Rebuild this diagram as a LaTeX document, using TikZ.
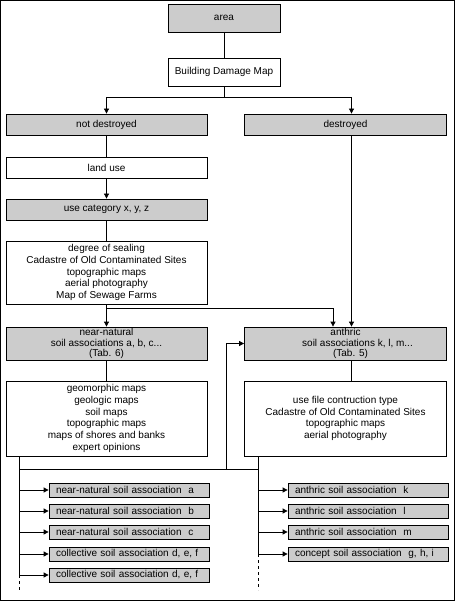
\documentclass[tikz,border=0pt]{standalone}
\usepackage{fontspec}
\setmainfont{Liberation Sans}
\usetikzlibrary{arrows.meta}

\definecolor{boxgray}{RGB}{204,204,204}

\tikzset{
    wbox/.style={draw, fill=white, inner sep=0pt, align=center,
        font=\fontsize{10}{11.8}\selectfont},
    gbox/.style={wbox, fill=boxgray},
    soilbox/.style={gbox, minimum height=33pt,
        font=\fontsize{10}{10.5}\selectfont},
    leaf/.style={gbox, minimum height=14pt, text width=146pt,
        inner xsep=7pt, align=left}
}

\begin{document}
\begin{tikzpicture}[x=1pt, y=-1pt, line width=0.8pt,
    >={Triangle[length=5pt,width=5pt]}]
    % 1. Khung ngoài
    \useasboundingbox (0,0) rectangle (455,601);
    \draw (0.5,0.5) rectangle (454.5,600.5);

    % 2. Các hộp chính
    \node[gbox, minimum width=112pt, minimum height=28pt] (area) at (224,18) {area};
    \node[wbox, minimum width=112pt, minimum height=28pt] (bdm) at (224,72) {Building Damage Map};
    \node[gbox, minimum width=201pt, minimum height=21pt] (notdes) at (106.5,124.5) {not destroyed};
    \node[gbox, minimum width=202pt, minimum height=21pt] (des) at (345.5,124.5) {destroyed};
    \node[wbox, minimum width=201pt, minimum height=21pt] (landuse) at (106.5,167.5) {land use};
    \node[gbox, minimum width=201pt, minimum height=21pt] (usecat) at (106.5,209.5) {use category x, y, z};
    \node[wbox, minimum width=201pt, minimum height=63pt] (degree) at (106.5,272.5)
        {degree of sealing\\Cadastre of Old Contaminated Sites\\topographic maps\\aerial photography\\Map of Sewage Farms};

    % 3. Hai nhóm đất
    \node[soilbox, minimum width=201pt] (near) at (106.5,343.5)
        {near-natural\\soil associations a, b, c...\\(Tab. 6)};
    \node[soilbox, minimum width=202pt] (anth) at (345.5,343.5)
        {anthric\\\hspace*{24pt}soil associations k, l, m...\\\hspace*{10pt}(Tab. 5)};
    \node[wbox, minimum width=201pt, minimum height=75pt] (nearinfo) at (106.5,418.5)
        {geomorphic maps\\geologic maps\\soil maps\\topographic maps\\maps of shores and banks\\expert opinions};
    \node[wbox, minimum width=202pt, minimum height=75pt] (anthinfo) at (345.5,418.5)
        {use file contruction type\\Cadastre of Old Contaminated Sites\\topographic maps\\aerial photography};

    % 4. Đường nối giữa các hộp
    \draw (area) -- (bdm);
    \draw[->] (bdm.south) -- ++(0,11) -| (notdes.north);
    \draw[->] (bdm.south) -- ++(0,11) -| ([xshift=6pt]des.north);
    \draw (notdes) -- (landuse);
    \draw[->] (landuse) -- (usecat);
    \draw (usecat) -- (degree);
    \draw[->] (degree) -- (near);
    \draw[->] (degree.south) -- ++(0,4) -| ([xshift=-12.5pt]anth.north);
    \draw[->] ([xshift=6pt]des.south) -- ([xshift=6pt]anth.north);
    \draw (near) -- (nearinfo);
    \draw ([xshift=6pt]anth.south) -- ([xshift=6pt]anthinfo.north);

    % 5. Trục dọc phía dưới và nhánh quay lại
    \coordinate (trunkL) at ([xshift=14pt]nearinfo.south west);
    \coordinate (trunkR) at ([xshift=14pt]anthinfo.south west);
    \coordinate (rise) at (226,469);
    \draw (trunkL |- rise) -- (trunkR |- rise);
    \draw[->] (rise) |- (anth.west);

    % 6. Các hộp lá bên trái
    \foreach \y/\txt [count=\i] in {490/{near-natural soil association~ a},
            511/{near-natural soil association~ b},
            532/{near-natural soil association~ c},
            554/{collective soil association d, e, f},
            575/{collective soil association d, e, f}} {
        \node[leaf] (leafL\i) at (129,\y) {\txt};
        \draw[->] (trunkL |- leafL\i.west) -- (leafL\i.west);
    }
    \draw (trunkL) -- (trunkL |- leafL5.west);
    \draw[dashed] (trunkL |- leafL5.west) -- ++(0,17);

    % 7. Các hộp lá bên phải
    \foreach \y/\txt [count=\i] in {490/{anthric soil association~ k},
            511/{anthric soil association~ l},
            532/{anthric soil association~ m},
            554/{concept soil association~ g, h, i}} {
        \node[leaf] (leafR\i) at (368,\y) {\txt};
        \draw[->] (trunkR |- leafR\i.west) -- (leafR\i.west);
    }
    \draw (trunkR) -- (trunkR |- leafR4.west);
    \draw[dashed] (trunkR |- leafR4.west) -- ++(0,36);

\end{tikzpicture}
\end{document}
